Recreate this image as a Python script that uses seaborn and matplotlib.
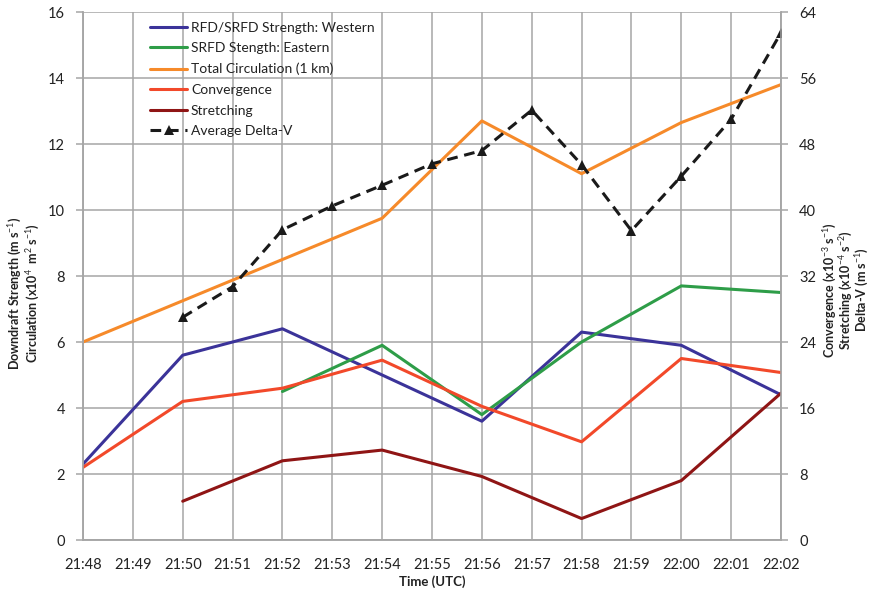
import numpy as np
import pandas as pd
import matplotlib
matplotlib.use("Agg")
import matplotlib.pyplot as plt
import seaborn as sns

# ------------------------------------------
# DATA
# ------------------------------------------
times = ["21:48", "21:49", "21:50", "21:51", "21:52", "21:53", "21:54",
         "21:55", "21:56", "21:57", "21:58", "21:59", "22:00", "22:01", "22:02"]
nan = np.nan

# left axis (m s-1, x10^4 m2 s-1)
western = [2.3, nan, 5.6, nan, 6.4, nan, 5.0, nan, 3.6, nan, 6.3, nan, 5.9, nan, 4.4]
eastern = [nan, nan, nan, nan, 4.5, nan, 5.9, nan, 3.8, nan, 6.0, nan, 7.7, nan, 7.5]
circulation = [6.0, nan, nan, nan, nan, nan, 9.75, nan, 12.7, nan, 11.1, nan, 12.65, nan, 13.8]

# right axis
convergence = [8.8, nan, 16.8, nan, 18.4, nan, 21.8, nan, 16.2, nan, 11.9, nan, 22.0, nan, 20.3]
stretching = [nan, nan, 4.7, nan, 9.6, nan, 10.9, nan, 7.7, nan, 2.6, nan, 7.2, nan, 17.8]
delta_v = [nan, nan, 27.0, 30.7, 37.6, 40.5, 43.0, 45.6, 47.2, 52.1, 45.5, 37.5, 44.1, 51.0, 61.5]

left_title = ["Downdraft Strength (m s$^{-1}$)",
              "Circulation (x10$^{4}$  m$^{2}$ s$^{-1}$)"]
right_title = ["Convergence (x10$^{-3}$ s$^{-1}$)",
               "Stretching (x10$^{-4}$ s$^{-2}$)",
               "Delta-V (m s$^{-1}$)"]

df = pd.DataFrame({
    "t": np.arange(len(times)),
    "western": western,
    "eastern": eastern,
    "circulation": circulation,
    "convergence": convergence,
    "stretching": stretching,
    "delta_v": delta_v,
})

# ------------------------------------------
# STYLE
# ------------------------------------------
sns.set_style("white")
plt.rcParams["font.family"] = ["Lato", "DejaVu Sans"]
plt.rcParams["mathtext.fontset"] = "custom"
plt.rcParams["mathtext.rm"] = "Lato"
plt.rcParams["mathtext.bf"] = "Lato:bold"

grid_c = "#a6a6a6"
text_c = "#222222"

fig = plt.figure(figsize=(8.69, 5.92), dpi=100)
ax = fig.add_axes([83 / 869, 52 / 592, 698 / 869, 528 / 592])
ax2 = ax.twinx()

lw = 2.2
sns.lineplot(data=df, x="t", y="western", ax=ax, color="#3b3399", lw=lw,
             label="RFD/SRFD Strength: Western", legend=False)
sns.lineplot(data=df, x="t", y="eastern", ax=ax, color="#2e9d48", lw=lw,
             label="SRFD Stength: Eastern", legend=False)
sns.lineplot(data=df, x="t", y="circulation", ax=ax, color="#f68a2a", lw=lw,
             label="Total Circulation (1 km)", legend=False)
sns.lineplot(data=df, x="t", y="convergence", ax=ax2, color="#f2492a", lw=lw,
             label="Convergence", legend=False)
sns.lineplot(data=df, x="t", y="stretching", ax=ax2, color="#8f1515", lw=lw,
             label="Stretching", legend=False)
sns.lineplot(data=df, x="t", y="delta_v", ax=ax2, color="#1a1a1a", lw=2.2,
             linestyle=(0, (3.5, 2.2)), marker="^", markersize=7, markeredgewidth=0,
             label="Average Delta-V", legend=False)

# axes limits / ticks
ax.set_xlim(0, len(times) - 1)
ax.set_ylim(0, 16)
ax2.set_ylim(0, 64)
ax.set_xticks(np.arange(len(times)))
ax.set_xticklabels(times)
ax.set_yticks(np.arange(0, 17, 2))
ax2.set_yticks(np.arange(0, 65, 8))

ax.grid(True, color=grid_c, lw=1.1)
ax.set_axisbelow(True)
ax2.grid(False)

for a in (ax, ax2):
    for s in a.spines.values():
        s.set_color(grid_c)
        s.set_linewidth(1.1)
    a.spines["top"].set_visible(False)
    a.tick_params(axis="both", colors=grid_c, length=5, width=1.1,
                  labelcolor=text_c, labelsize=10.5, pad=8)
ax.set_ylabel("")
ax2.set_ylabel("")

ax.set_xlabel("Time (UTC)", fontsize=9.5, fontweight="bold", color=text_c, labelpad=2)

# axis titles, one text per line, centred on the plot area
for x_px, line in zip([15, 33], left_title):
    fig.text(x_px / 869, 0.505, line, rotation=90, ha="center", va="center",
             fontsize=9, fontweight="bold", color=text_c)
for x_px, line in zip([830, 846, 862], right_title):
    fig.text(x_px / 869, 0.51, line, rotation=90, ha="center", va="center",
             fontsize=9, fontweight="bold", color=text_c)

# legend with both axes
h1, l1 = ax.get_legend_handles_labels()
h2, l2 = ax2.get_legend_handles_labels()
leg = ax2.legend(h1 + h2, l1 + l2, loc="upper left", bbox_to_anchor=(0.082, 1.0),
                 frameon=False, fontsize=10, handlelength=2.7, handletextpad=0.25,
                 labelspacing=0.62, borderaxespad=0.3)
for t in leg.get_texts():
    t.set_color(text_c)

fig.savefig("out.png", dpi=100)
